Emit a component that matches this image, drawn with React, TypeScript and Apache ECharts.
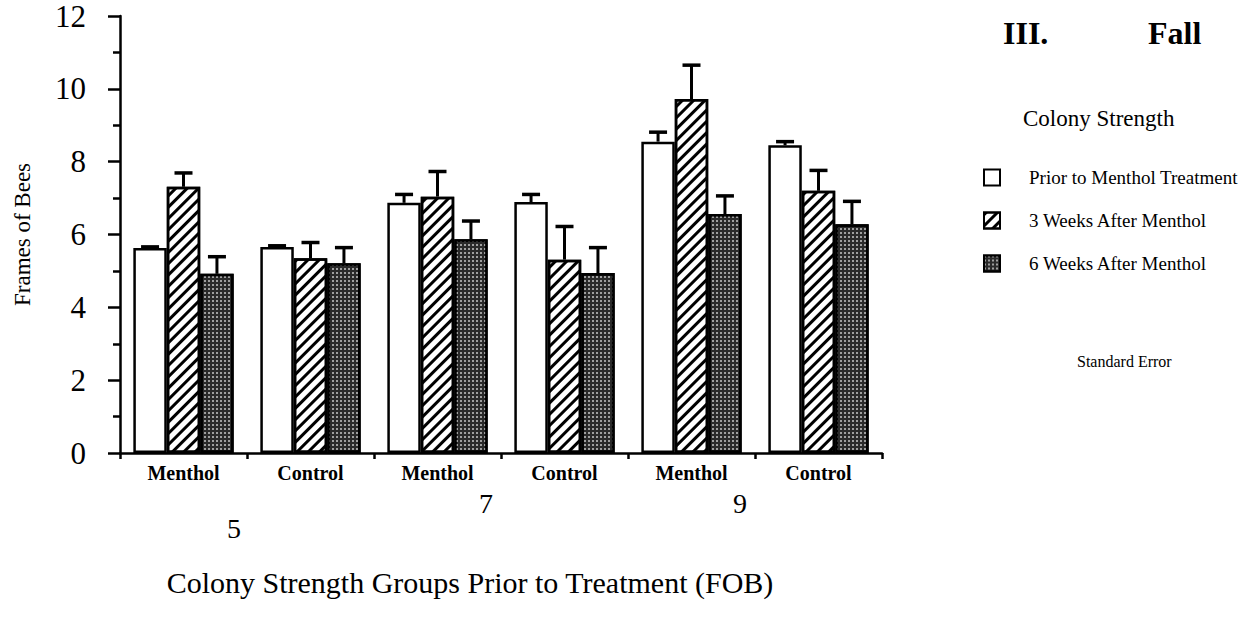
import React, { useEffect, useRef } from "react";
import * as echarts from "echarts";

const categories = ["Menthol", "Control", "Menthol", "Control", "Menthol", "Control"];
const groupLabels = ["5", "7", "9"];
const seriesNames = ["Prior to Menthol Treatment", "3 Weeks After Menthol", "6 Weeks After Menthol"];
const prior = [5.63, 5.66, 6.87, 6.89, 8.55, 8.45];
const priorSE = [0.03, 0.03, 0.23, 0.21, 0.26, 0.1];
const week3 = [7.31, 5.35, 7.04, 5.31, 9.72, 7.2];
const week3SE = [0.38, 0.43, 0.69, 0.91, 0.93, 0.56];
const week6 = [4.92, 5.21, 5.87, 4.94, 6.56, 6.28];
const week6SE = [0.47, 0.43, 0.5, 0.7, 0.5, 0.63];
const yTicks = { min: 0, max: 12, interval: 2 };

const FONT = "'Liberation Serif', 'DejaVu Serif', serif";
const CAT_GAP = 0.21;

export default function App() {
  const ref = useRef<HTMLDivElement>(null);
  useEffect(() => {
    if (!ref.current) return;
    const chart = echarts.init(ref.current, null, { renderer: "svg" });
    const values = [prior, week3, week6];
    const ses = [priorSE, week3SE, week6SE];
    const styles = [
      { color: "#ffffff", borderColor: "#000", borderWidth: 2.5 },
      {
        color: "#ffffff",
        borderColor: "#000",
        borderWidth: 2.5,
        decal: {
          symbol: "rect",
          symbolSize: 1,
          color: "#000",
          dashArrayX: [1, 0],
          dashArrayY: [3, 5],
          rotation: -Math.PI / 4,
        },
      },
      {
        color: "#2a2a2a",
        borderColor: "#000",
        borderWidth: 2.5,
        decal: {
          symbol: "rect",
          symbolSize: 1,
          color: "rgba(255,255,255,0.55)",
          dashArrayX: [1.5, 2],
          dashArrayY: [1.5, 2],
          rotation: 0,
        },
      },
    ];
    const barSeries = values.map((v, k) => ({
      type: "bar",
      name: seriesNames[k],
      data: v,
      barGap: "0%",
      barCategoryGap: (CAT_GAP * 100).toFixed(0) + "%",
      itemStyle: styles[k],
      z: 2,
    }));
    const errSeries = values.map((v, k) => ({
      type: "custom",
      name: seriesNames[k] + " SE",
      data: v.map((val, i) => [i, val, val + ses[k][i]]),
      encode: { x: 0, y: [1, 2] },
      z: 3,
      renderItem: (params: any, api: any) => {
        const cat = api.value(0);
        const base = api.coord([cat, api.value(1)]);
        const top = api.coord([cat, api.value(2)]);
        const bandW = api.size([1, 0])[0];
        const barW = (bandW * (1 - CAT_GAP)) / 3;
        const x = base[0] + (k - 1) * barW;
        return {
          type: "group",
          children: [
            { type: "line", shape: { x1: x, y1: base[1], x2: x, y2: top[1] }, style: { stroke: "#000", lineWidth: 3 } },
            { type: "line", shape: { x1: x - 9, y1: top[1], x2: x + 9, y2: top[1] }, style: { stroke: "#000", lineWidth: 3.5 } },
          ],
        };
      },
    }));

    chart.setOption({
      animation: false,
      backgroundColor: "#ffffff",
      textStyle: { fontFamily: FONT, color: "#000" },
      grid: { left: 120, right: 375, top: 16, bottom: 179, containLabel: false },
      legend: {
        data: seriesNames,
        orient: "vertical",
        left: 983,
        top: 168,
        padding: 0,
        itemWidth: 16,
        itemHeight: 16,
        itemGap: 24,
        icon: "rect",
        textStyle: { fontFamily: FONT, fontSize: 19, color: "#000", padding: [0, 0, 0, 24] },
        selectedMode: false,
      },
      xAxis: [
        {
          type: "category",
          data: categories,
          axisLine: { lineStyle: { color: "#000", width: 2.5 } },
          axisTick: { show: true, length: 6, lineStyle: { color: "#000", width: 2.5 } },
          axisLabel: { fontFamily: FONT, fontSize: 20, fontWeight: "bold", color: "#000", margin: 10 },
          name: "Colony Strength Groups Prior to Treatment (FOB)",
          nameLocation: "middle",
          nameGap: 114,
          nameTextStyle: { fontFamily: FONT, fontSize: 30, color: "#000", padding: [0, 62, 0, 0] },
        },
        {
          type: "category",
          data: [
            { value: groupLabels[0], textStyle: { padding: [25, 26, 0, 0] } },
            { value: groupLabels[1], textStyle: { padding: [0, 30, 0, 0] } },
            { value: groupLabels[2], textStyle: { padding: [0, 30, 0, 0] } },
          ],
          position: "bottom",
          offset: 36,
          axisLine: { show: false },
          axisTick: { show: false },
          axisLabel: { fontFamily: FONT, fontSize: 28, color: "#000", margin: 0 },
        },
      ],
      yAxis: {
        type: "value",
        min: yTicks.min,
        max: yTicks.max,
        interval: yTicks.interval,
        axisLine: { show: true, lineStyle: { color: "#000", width: 2.5 } },
        axisTick: { show: true, length: 12, lineStyle: { color: "#000", width: 2.5 } },
        minorTick: { show: true, splitNumber: 2, length: 7, lineStyle: { color: "#000", width: 2.5 } },
        splitLine: { show: false },
        axisLabel: { fontFamily: FONT, fontSize: 31, color: "#000", margin: 34 },
        name: "Frames of Bees",
        nameLocation: "middle",
        nameRotate: 90,
        nameGap: 86,
        nameTextStyle: { fontFamily: FONT, fontSize: 23, color: "#000" },
      },
      graphic: [
        { type: "text", left: 1003, top: 17, style: { text: "III.", font: `bold 32px ${FONT}`, fill: "#000" } },
        { type: "text", left: 1148, top: 17, style: { text: "Fall", font: `bold 32px ${FONT}`, fill: "#000" } },
        { type: "text", left: 1023, top: 107, style: { text: "Colony Strength", font: `23px ${FONT}`, fill: "#000" } },
        { type: "text", left: 1077, top: 353, style: { text: "Standard Error", font: `16px ${FONT}`, fill: "#000" } },
      ],
      series: [...barSeries, ...errSeries],
    });
    return () => chart.dispose();
  }, []);
  return <div ref={ref} style={{ position: "fixed", left: 0, top: 0, width: 1257, height: 632 }} />;
}
